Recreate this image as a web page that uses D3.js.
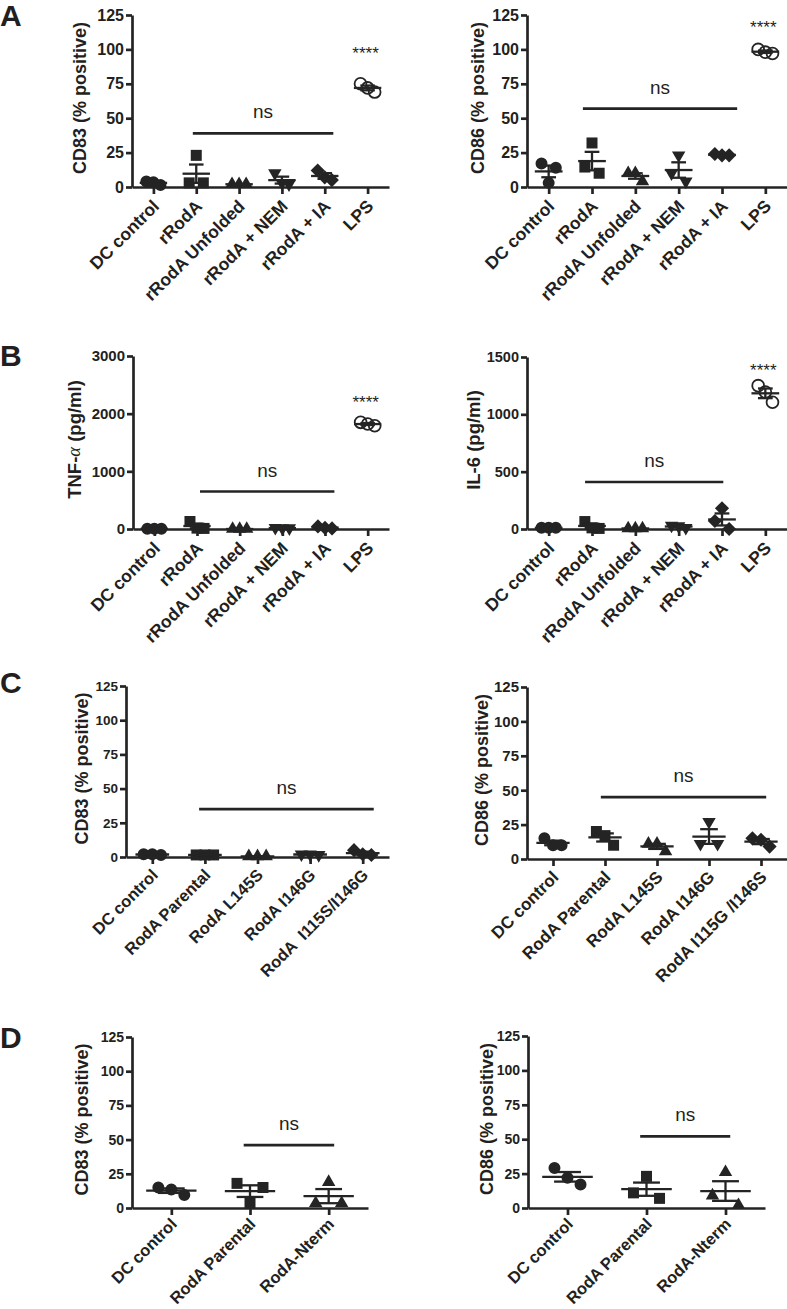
<!DOCTYPE html>
<html><head><meta charset="utf-8">
<script src="https://cdn.jsdelivr.net/npm/d3@7"></script>
<style>
body{margin:0;background:#fff}
text{font-family:"Liberation Sans",Arial,sans-serif;fill:#231f20}
</style>
</head><body>
<svg id="c" width="787" height="1309"></svg>
<script>
// ---------- DATA ----------
const catsA = ["DC control", "rRodA", "rRodA Unfolded", "rRodA + NEM", "rRodA + IA", "LPS"];
const catsC83 = ["DC control", "RodA Parental", "RodA L145S", "RodA I146G", "RodA  I115S/I146G"];
const catsC86 = ["DC control", "RodA Parental", "RodA L145S", "RodA I146G", "RodA I115G /I146S"];
const catsD = ["DC control", "RodA Parental", "RodA-Nterm"];

const symbolsA = ["circle", "square", "triangle", "triangleDown", "diamond", "openCircle"];
const symbolsC = ["circle", "square", "triangle", "triangleDown", "diamond"];
const symbolsD = ["circle", "square", "triangle"];

const cd83A = [[4, 3.5, 1.5], [23, 3, 3], [2, 2, 2], [10, 3, 2], [12, 7, 5], [75, 72, 69]];
const cd86A = [[3, 17, 14], [32, 10, 14.5], [10, 10, 4], [23, 4, 10], [24, 23, 23], [97, 98, 100]];
const tnfB  = [[5, 5, 5], [130, 15, 10], [0, 0, 0], [20, 15, 15], [45, 20, 10], [1850, 1790, 1820]];
const il6B  = [[10, 10, 10], [65, 10, 5], [5, 5, 5], [30, 25, 10], [180, 0, 70], [1250, 1195, 1105]];
const cd83C = [[2, 1.5, 2], [1.5, 1.5, 1.5], [0.5, 0.5, 0.5], [2, 2, 1.5], [5, 1.5, 2]];
const cd86C = [[15, 10, 10], [20, 17, 10], [11, 11, 5.5], [27, 11, 11], [15, 14, 9]];
const cd83D = [[15, 9.5, 13.5], [18, 15, 4], [19, 3.5, 3.5]];
const cd86D = [[29, 17, 22], [23, 7, 11], [26, 2, 9]];

const ticksPct = [0, 25, 50, 75, 100, 125];
const ticksTNF = [0, 1000, 2000, 3000];
const ticksIL6 = [0, 500, 1000, 1500];

// significance annotations: value level of "ns" bar, and of "****"
const nsLevel   = [39, 57, 650, 410, 35, 45, 46, 52];
const starLevel = [100, 119, 2272, 1421, null, null, null, null];

// ---------- LAYOUT ----------
const ink = "#242424";
const svg = d3.select("#c");

const panels = [
  {cats: catsA, vals: cd83A, syms: symbolsA, ticks: ticksPct, title: ["CD83 (% positive)"], x0: 132, x1: 389, yb: 187, yt: 15, titleX: 80, tickFs: 16, labFs: 17.5, labOff: 16, titleFs: 18, nsSpan: [0.92, 4.2]},
  {cats: catsA, vals: cd86A, syms: symbolsA, ticks: ticksPct, title: ["CD86 (% positive)"], x0: 527, x1: 787, yb: 187, yt: 15, titleX: 478, tickFs: 16, labFs: 17.5, labOff: 16, titleFs: 18, nsSpan: [0.79, 4.35]},
  {cats: catsA, vals: tnfB, syms: symbolsA, ticks: ticksTNF, title: ["TNF-", "α", " (pg/ml)"], x0: 133, x1: 389, yb: 529, yt: 356, titleX: 74, tickFs: 15, labFs: 17.5, labOff: 16, titleFs: 18.5, nsSpan: [1.07, 4.22]},
  {cats: catsA, vals: il6B, syms: symbolsA, ticks: ticksIL6, title: ["IL-6 (pg/ml)"], x0: 527, x1: 787, yb: 529, yt: 357, titleX: 473, tickFs: 14.5, labFs: 17.5, labOff: 16, titleFs: 18.5, nsSpan: [0.84, 4.03]},
  {cats: catsC83, vals: cd83C, syms: symbolsC, ticks: ticksPct, title: ["CD83 (% positive)"], x0: 126, x1: 389, yb: 857, yt: 686, titleX: 82, tickFs: 13.5, labFs: 16.5, labOff: 15, titleFs: 18, nsSpan: [0.89, 4.21]},
  {cats: catsC86, vals: cd86C, syms: symbolsC, ticks: ticksPct, title: ["CD86 (% positive)"], x0: 527, x1: 787, yb: 859, yt: 687, titleX: 482, tickFs: 15, labFs: 17, labOff: 15, titleFs: 18, nsSpan: [0.92, 4.1]},
  {cats: catsD, vals: cd83D, syms: symbolsD, ticks: ticksPct, title: ["CD83 (% positive)"], x0: 132, x1: 368, yb: 1208, yt: 1037, titleX: 82, tickFs: 14, labFs: 16.5, labOff: 13, titleFs: 18, nsSpan: [0.92, 2.07]},
  {cats: catsD, vals: cd86D, syms: symbolsD, ticks: ticksPct, title: ["CD86 (% positive)"], x0: 528, x1: 765, yb: 1208, yt: 1036, titleX: 487, tickFs: 14, labFs: 16.5, labOff: 13, titleFs: 18, nsSpan: [0.92, 2.06]}
];

const letters = [["A", 0, 26], ["B", 0, 366], ["C", 0, 693], ["D", 0, 1048]];
letters.forEach(([t, x, y]) => svg.append("text").attr("x", x).attr("y", y)
  .attr("font-size", 30).attr("font-weight", "bold").text(t));

function symPath(name) {
  const m = {
    circle: [d3.symbolCircle, 113],
    openCircle: [d3.symbolCircle, 110],
    square: [d3.symbolSquare, 121],
    triangle: [d3.symbolTriangle, 78],
    triangleDown: [d3.symbolTriangle, 78],
    diamond: [d3.symbolSquare, 100]
  }[name];
  return d3.symbol().type(m[0]).size(m[1])();
}
function symRot(name) {
  if (name === "triangleDown") return 180;
  if (name === "diamond") return 45;
  return 0;
}

panels.forEach((p, pi) => {
  const g = svg.append("g");
  const x = d3.scalePoint().domain(p.cats).range([p.x0, p.x1]).padding(0.5);
  const step = x.step();
  const y = d3.scaleLinear().domain([0, p.ticks[p.ticks.length - 1]]).range([p.yb, p.yt]);

  // y axis
  const ya = g.append("g").attr("transform", `translate(${p.x0},0)`)
    .call(d3.axisLeft(y).tickValues(p.ticks).tickFormat(d3.format("d"))
      .tickSize(6).tickSizeOuter(0).tickPadding(2));
  ya.selectAll("text").attr("font-size", p.tickFs).attr("font-weight", "bold").attr("fill", ink);
  ya.selectAll("line,path").attr("stroke", ink).attr("stroke-width", 2.7);

  // x axis
  const xa = g.append("g").attr("transform", `translate(0,${p.yb})`)
    .call(d3.axisBottom(x).tickSize(7).tickSizeOuter(0));
  xa.selectAll("line,path").attr("stroke", ink).attr("stroke-width", 2.7);
  xa.selectAll("text")
    .attr("x", 0).attr("y", 0).attr("dy", "0.35em")
    .attr("transform", `translate(2,${p.labOff}) rotate(-45)`)
    .attr("text-anchor", "end")
    .attr("font-size", p.labFs).attr("font-weight", "bold").attr("fill", ink)
    .style("white-space", "pre");

  // y title
  const tt = g.append("text")
    .attr("transform", `translate(${p.titleX},${(p.yb + p.yt) / 2 - 3}) rotate(-90)`)
    .attr("text-anchor", "middle").attr("dominant-baseline", "central")
    .attr("font-size", p.titleFs).attr("font-weight", "bold");
  p.title.forEach(s => {
    const ts = tt.append("tspan").text(s);
    if (s === "α") ts.attr("font-family", "Liberation Serif, serif").attr("font-style", "italic").attr("font-weight", "normal");
  });

  // points, mean, SEM
  const spread = 0.165 * step;
  p.cats.forEach((c, i) => {
    const vals = p.vals[i];
    const cx = x(c);
    const sym = p.syms[i];
    // cluster values by pixel proximity, spread each cluster horizontally
    const order = vals.map((v, k) => ({v, k, py: y(v)})).sort((a, b) => b.v - a.v);
    const rows = [];
    order.forEach(o => {
      const last = rows[rows.length - 1];
      if (last && Math.abs(last[last.length - 1].py - o.py) < 12) last.push(o);
      else rows.push([o]);
    });
    rows.forEach(r => {
      const n = r.length;
      r.forEach((o, j) => {
        const off = n === 1 ? 0 : -spread + 2 * spread * j / (n - 1);
        g.append("path").attr("d", symPath(sym))
          .attr("transform", `translate(${cx + off},${o.py}) rotate(${symRot(sym)})`)
          .attr("fill", sym === "openCircle" ? "none" : ink)
          .attr("stroke", sym === "openCircle" ? ink : "none")
          .attr("stroke-width", 1.8);
      });
    });
    const mean = d3.mean(vals);
    const sem = d3.deviation(vals) / Math.sqrt(vals.length);
    const mw = 0.32 * step, cw = 0.17 * step;
    const lg = g.append("g").attr("stroke", ink).attr("stroke-width", 2.3);
    lg.append("line").attr("x1", cx - mw).attr("x2", cx + mw).attr("y1", y(mean)).attr("y2", y(mean));
    lg.append("line").attr("x1", cx).attr("x2", cx).attr("y1", y(mean - sem)).attr("y2", y(mean + sem));
    lg.append("line").attr("x1", cx - cw).attr("x2", cx + cw).attr("y1", y(mean + sem)).attr("y2", y(mean + sem));
    lg.append("line").attr("x1", cx - cw).attr("x2", cx + cw).attr("y1", y(mean - sem)).attr("y2", y(mean - sem));
  });

  // ns bar
  const fx = t => p.x0 + step * (t + 0.5);
  const xs = fx(p.nsSpan[0]), xe = fx(p.nsSpan[1]);
  const ly = y(nsLevel[pi]);
  g.append("line").attr("x1", xs).attr("x2", xe).attr("y1", ly).attr("y2", ly)
    .attr("stroke", ink).attr("stroke-width", 2.7);
  g.append("text").attr("x", (xs + xe) / 2).attr("y", ly - 15).attr("text-anchor", "middle")
    .attr("font-size", 19).text("ns");

  // stars
  if (starLevel[pi] != null) {
    g.append("text").attr("x", x(p.cats[p.cats.length - 1]) - 2)
      .attr("y", y(starLevel[pi]) + 0.57 * 17).attr("text-anchor", "middle")
      .attr("font-size", 17).text("****");
  }
});
</script>
</body></html>
